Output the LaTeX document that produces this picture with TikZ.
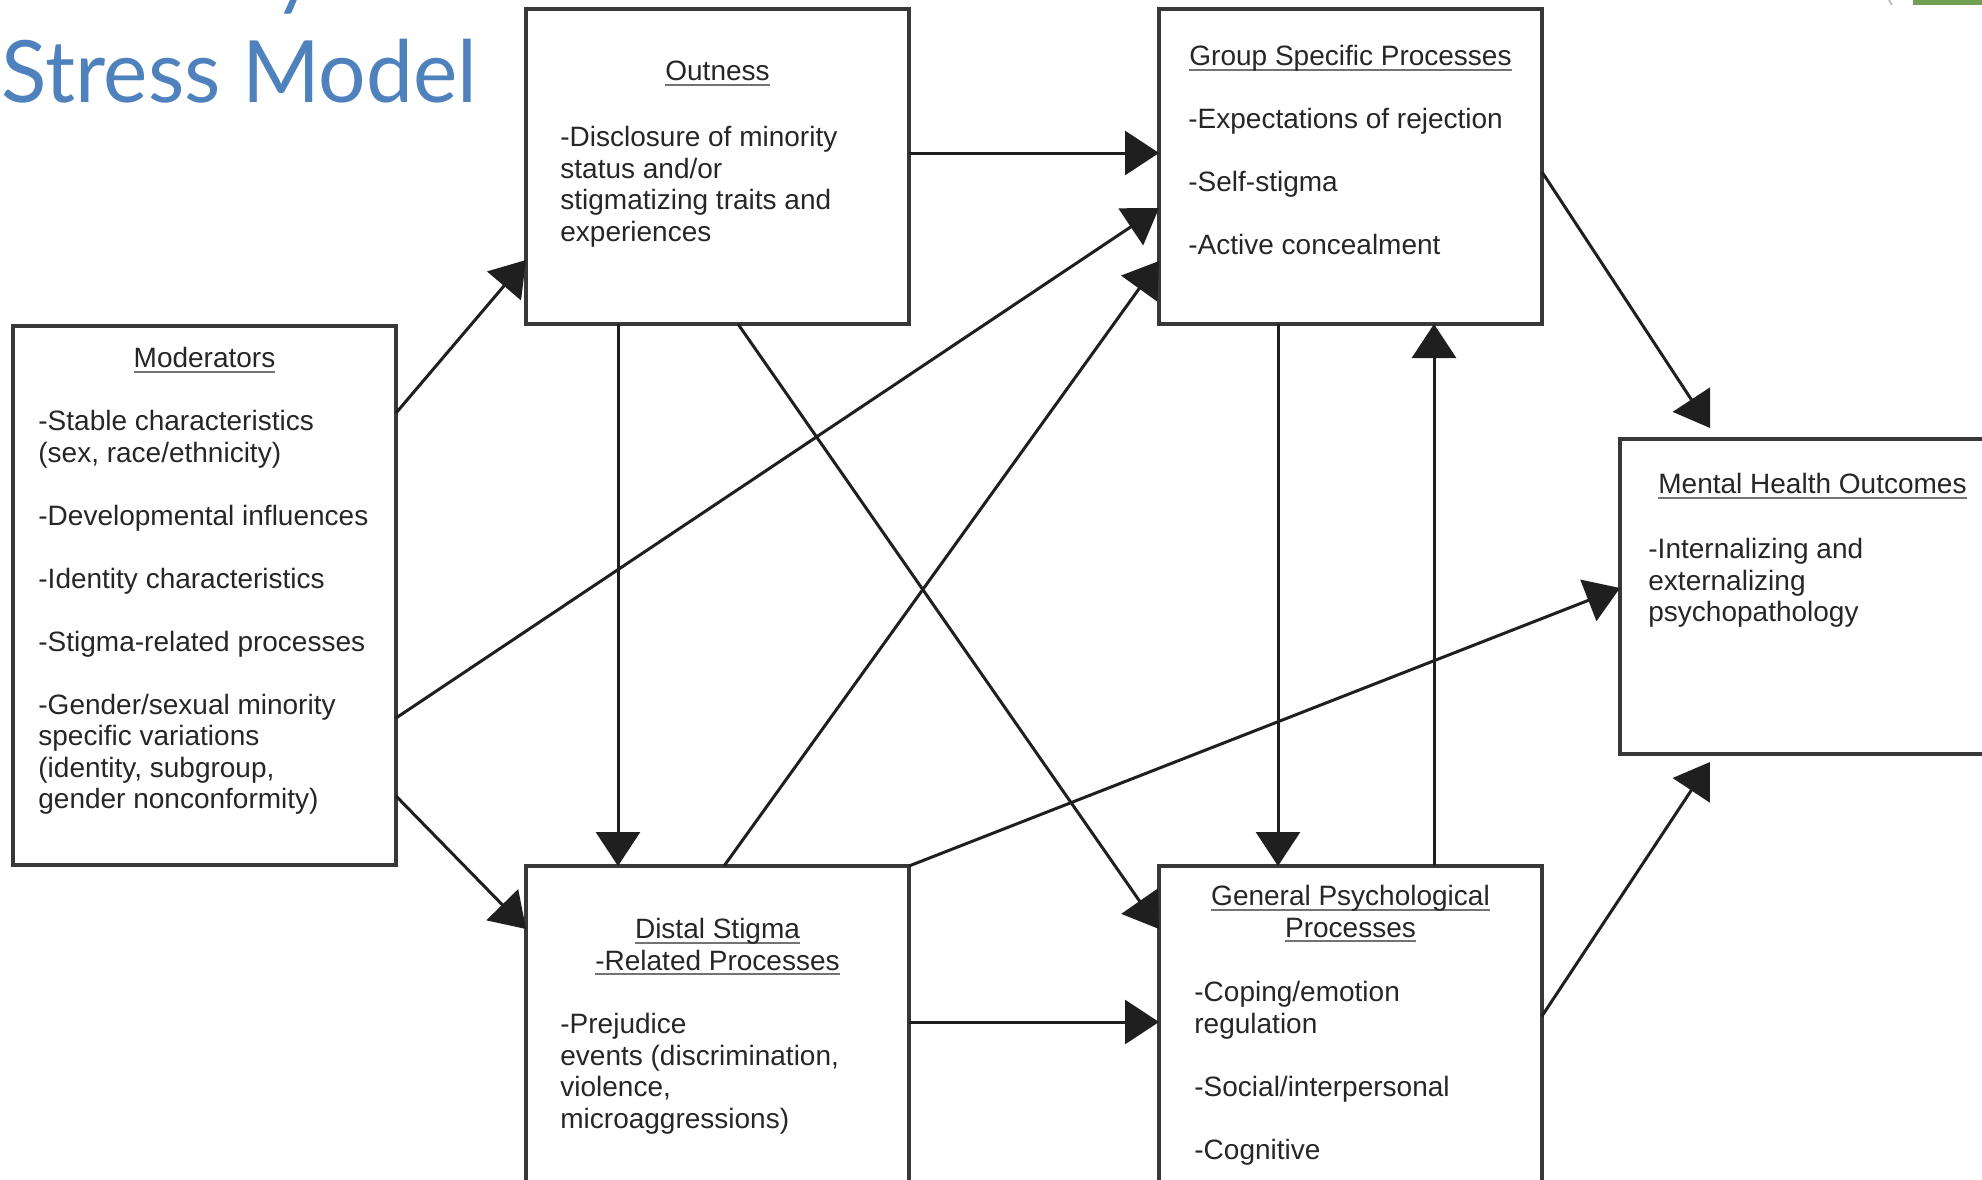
\documentclass[tikz,border=0pt]{standalone}
\usepackage{fontspec}
\setmainfont{Liberation Sans}
\newfontfamily\titlefont[FakeStretch=0.975]{Lato}
\usetikzlibrary{arrows.meta,calc,positioning}
\definecolor{titleblue}{HTML}{4F81BD}
\definecolor{slidegreen}{HTML}{6F9F52}
\newcommand{\boxfont}{\fontsize{14pt}{15.75pt}\selectfont}
\newcommand{\boxtitle}[1]{\setbox0\hbox{#1}\rlap{\color{black!55}\rule[-2.6pt]{\wd0}{1.1pt}}\box0}
\newcommand{\skipline}{\\[15.75pt]}

\begin{document}
\begin{tikzpicture}
  [x=0.5pt, y=-0.5pt,
  line/.style={draw=black!88, line width=1.5pt, -{Triangle[length=17pt, width=22pt]}},
  block/.style={rectangle, draw=black!78, line width=1.6pt, inner sep=0pt, outer sep=0pt,
    anchor=north west, minimum width=191.5pt, minimum height=157.5pt},
  head/.style={font=\boxfont, text=black!85, align=center, anchor=north, inner sep=0pt},
  items/.style={font=\boxfont, text=black!85, align=left, anchor=north west, inner sep=0pt}]
  \useasboundingbox (0,0) rectangle (1982,1179);
  \clip (0,0) rectangle (1982,1179);

  % slide title and corner
  \node [anchor=base west, inner sep=0pt, text=titleblue, font=\titlefont\fontsize{43pt}{43pt}\selectfont] (titletop) at (1,-1) {Minority};
  \node [anchor=base west, inner sep=0pt, text=titleblue, font=\titlefont\fontsize{43pt}{43pt}\selectfont] (title) at (1,102) {Stress Model};
  \fill [slidegreen] (1913,0) rectangle (1982,5);
  \draw [black!25, line width=1pt] (1889,0) -- (1892,5);

  % boxes
  \node [block, minimum height=269.5pt] (mod) at (13,326) {};
  \node [block] (out) at (526,9) {};
  \node [block] (grp) at (1159,9) {};
  \node [block, minimum width=192pt] (mh) at (1620,439) {};
  \node [block, minimum height=170pt] (dis) at (526,866) {};
  \node [block, minimum height=170pt] (gen) at (1159,866) {};

  % box texts
  \node [head] (modhead) at ($(mod.north)+(0,21)$) {\boxtitle{Moderators}};
  \node [items] (modtext) at ($(mod.north west)+(25,84)$) {-Stable characteristics\\(sex, race/ethnicity)\skipline -Developmental influences\skipline -Identity characteristics\skipline -Stigma-related processes\skipline -Gender/sexual minority\\specific variations\\(identity, subgroup,\\gender nonconformity)};
  \node [head] (outhead) at ($(out.north)+(0,52)$) {\boxtitle{Outness}};
  \node [items] (outtext) at ($(out.north west)+(34,117)$) {-Disclosure of minority\\status and/or\\stigmatizing traits and\\experiences};
  \node [head] (grphead) at ($(grp.north)+(0,36)$) {\boxtitle{Group Specific Processes}};
  \node [items] (grptext) at ($(grp.north west)+(29,99)$) {-Expectations of rejection\skipline -Self-stigma\skipline -Active concealment};
  \node [head, anchor=north west] (mhhead) at ($(mh.north west)+(38,34)$) {\boxtitle{Mental Health Outcomes}};
  \node [items] (mhtext) at ($(mh.north west)+(28,99)$) {-Internalizing and\\externalizing\\psychopathology};
  \node [head] (dishead) at ($(dis.north)+(0,52)$) {\boxtitle{Distal Stigma}\\\boxtitle{-Related Processes}};
  \node [items] (distext) at ($(dis.north west)+(34,147)$) {-Prejudice\\events (discrimination,\\violence,\\microaggressions)};
  \node [head] (genhead) at ($(gen.north)+(0,19)$) {\boxtitle{General Psychological}\\\boxtitle{Processes}};
  \node [items] (gentext) at ($(gen.north west)+(35,115)$) {-Coping/emotion\\regulation\skipline -Social/interpersonal\skipline -Cognitive};

  % edges
  \path [line] ($(mod.north east)+(0,87)$) -- ($(out.north west)+(0,251)$);
  \path [line] ($(mod.north east)+(0,392)$) -- ($(grp.north west)+(0,199)$);
  \path [line] ($(mod.north east)+(0,470)$) -- ($(dis.north west)+(0,63)$);
  \path [line] ($(out.north east)+(0,144)$) -- ($(grp.north west)+(0,144)$);
  \path [line] ($(out.south west)+(92,0)$) -- ($(dis.north west)+(92,0)$);
  \path [line] ($(out.south west)+(212,0)$) -- ($(gen.north west)+(0,63)$);
  \path [line] ($(dis.north west)+(198,0)$) -- ($(grp.north west)+(0,252)$);
  \path [line] (dis.north east) -- ($(mh.north west)+(0,149)$);
  \path [line] ($(dis.north east)+(0,156)$) -- ($(gen.north west)+(0,156)$);
  \path [line] ($(grp.south west)+(119,0)$) -- ($(gen.north west)+(119,0)$);
  \path [line] ($(gen.north west)+(275,0)$) -- ($(grp.south west)+(275,0)$);
  \path [line] ($(grp.north east)+(0,163)$) -- ($(mh.north west)+(90,-11)$);
  \path [line] ($(gen.north east)+(0,150)$) -- ($(mh.south west)+(90,8)$);

\end{tikzpicture}
\end{document}
